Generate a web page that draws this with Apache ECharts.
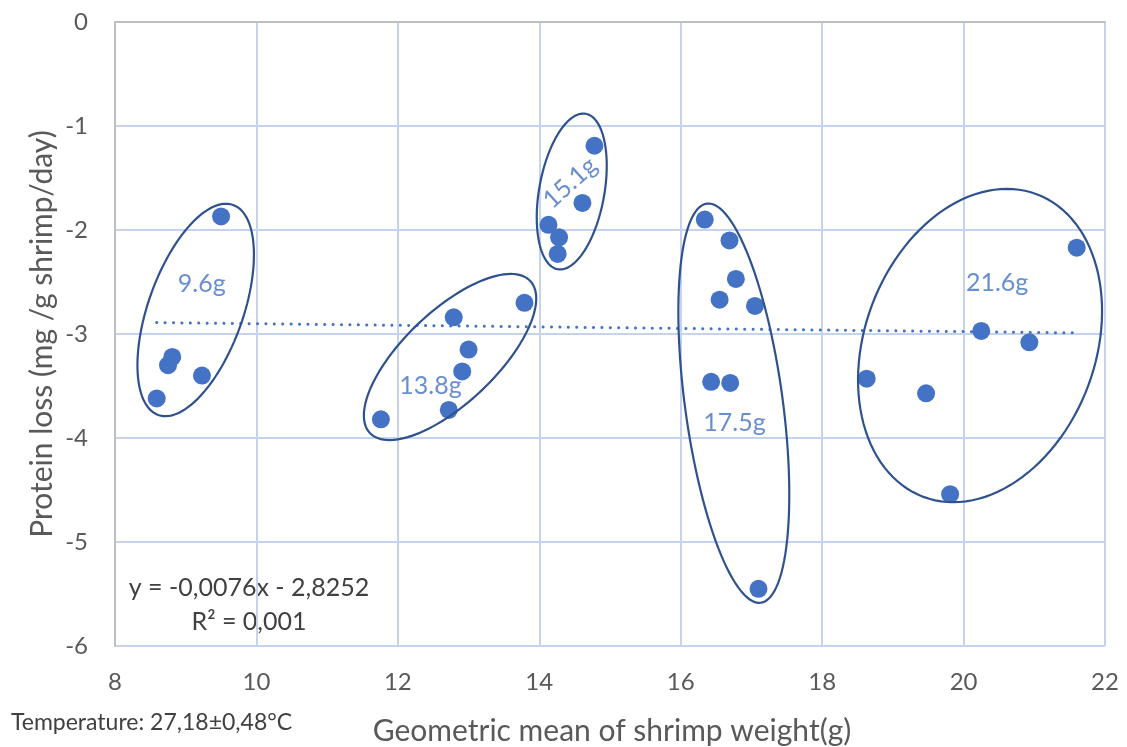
<!DOCTYPE html>
<html>
<head>
<meta charset="utf-8">
<script src="https://cdn.jsdelivr.net/npm/echarts@6/dist/echarts.min.js"></script>
<style>html,body{margin:0;padding:0;background:#fff}#c{width:1127px;height:747px}</style>
</head>
<body>
<div id="c"></div>
<script>
// ---- data ----
const weights = [9.50, 8.75, 8.81, 9.23, 8.59,
  11.76, 12.72, 12.79, 13.00, 12.91, 13.79,
  14.78, 14.61, 14.13, 14.28, 14.26,
  16.34, 16.69, 16.78, 16.55, 17.05, 16.43, 16.70, 17.10,
  18.63, 19.47, 19.81, 20.25, 20.93, 21.60];
const proteinLoss = [-1.87, -3.30, -3.22, -3.40, -3.62,
  -3.82, -3.73, -2.84, -3.15, -3.36, -2.70,
  -1.19, -1.74, -1.95, -2.07, -2.23,
  -1.90, -2.10, -2.47, -2.67, -2.73, -3.46, -3.47, -5.45,
  -3.43, -3.57, -4.54, -2.97, -3.08, -2.17];
const groupNames = ['9.6g', '13.8g', '15.1g', '17.5g', '21.6g'];
const groupLabelX = [9.226, 12.462, 14.435, 16.76, 20.474];
const groupLabelY = [-2.514, -3.50, -1.546, -3.851, -2.505];
const groupLabelRotate = [0, 0, 42, 0, 0];
// ellipse annotations: centre (data units)
const ellipseCx = [9.141, 12.738, 14.459, 16.751, 20.233];
const ellipseCy = [-2.769, -3.221, -1.630, -3.665, -3.111];
const xTicks = [8, 10, 12, 14, 16, 18, 20, 22];
const yTicks = [0, -1, -2, -3, -4, -5, -6];
const trendSlope = -0.0076;
const trendIntercept = -2.8252;
const equationText = 'y = -0,0076x - 2,8252';
const r2Text = 'R² = 0,001';
const tempText = 'Temperature: 27,18±0,48°C';
const xTitle = 'Geometric mean of shrimp weight(g)';
const yTitle = 'Protein loss (mg /g shrimp/day)';

// ---- styles (pixel sizes of annotation ellipses) ----
const ellipseStyle = [
  {a: 111.5, b: 47.4, ang: 70.4},
  {a: 110.5, b: 46.0, ang: 43.5},
  {a: 79.0, b: 32.6, ang: 79.8},
  {a: 201.4, b: 48.9, ang: 97.7},
  {a: 161.6, b: 115.4, ang: 69.5}
];

const FONT = 'Lato';
const pts = weights.map((w, i) => [w, proteinLoss[i]]);
const xMin = Math.min(...weights), xMax = Math.max(...weights);
const trend = [[xMin, trendSlope * xMin + trendIntercept], [xMax, trendSlope * xMax + trendIntercept]];
const ellData = ellipseCx.map((x, i) => [x, ellipseCy[i], i]);
const labelData = groupNames.map((n, i) => ({
  value: [groupLabelX[i], groupLabelY[i]], name: n,
  label: {rotate: groupLabelRotate[i]}
}));

const chart = echarts.init(document.getElementById('c'));
chart.setOption({
  animation: false,
  backgroundColor: '#ffffff',
  grid: {left: 115, right: 22, top: 22, bottom: 101, containLabel: false},
  xAxis: [{
    type: 'value', min: 8, max: 22, interval: 2, position: 'bottom',
    axisLine: {show: false}, axisTick: {show: false},
    axisLabel: {color: '#595959', fontFamily: FONT, fontSize: 24, margin: 24,
      formatter: v => xTicks.includes(v) ? String(v) : ''},
    splitLine: {show: true, lineStyle: {color: '#C5D3EC', width: 2}}
  }, {
    type: 'value', min: 8, max: 22, interval: 2, position: 'top',
    axisLine: {show: true, onZero: false, lineStyle: {color: '#BFBFBF', width: 2}},
    axisTick: {show: false}, axisLabel: {show: false}, splitLine: {show: false}
  }],
  yAxis: {
    type: 'value', min: -6, max: 0, interval: 1,
    axisLine: {show: true, onZero: false, lineStyle: {color: '#BFBFBF', width: 2}},
    axisTick: {show: false},
    axisLabel: {color: '#595959', fontFamily: FONT, fontSize: 24, margin: 27,
      padding: [6, 0, 0, 0],
      formatter: v => yTicks.includes(v) ? String(v) : ''},
    splitLine: {show: true, lineStyle: {color: '#C5D3EC', width: 2}}
  },
  series: [
    {
      type: 'line', data: trend, showSymbol: false, symbol: 'none', z: 3,
      lineStyle: {color: '#4472C4', width: 3, type: [0.1, 8.3], cap: 'round'}
    },
    {
      type: 'scatter', data: pts, symbolSize: 18, z: 4,
      itemStyle: {color: '#4472C4', opacity: 1}
    },
    {
      type: 'custom', data: ellData, z: 5, silent: true,
      renderItem: function (params, api) {
        const c = api.coord([api.value(0), api.value(1)]);
        const st = ellipseStyle[api.value(2)];
        const t = st.ang * Math.PI / 180;
        const ux = Math.cos(t), uy = -Math.sin(t);
        const vx = Math.sin(t), vy = Math.cos(t);
        const p = [];
        for (let k = 0; k < 120; k++) {
          const s = k / 120 * Math.PI * 2;
          const ca = st.a * Math.cos(s), sb = st.b * Math.sin(s);
          p.push([c[0] + ca * ux + sb * vx, c[1] + ca * uy + sb * vy]);
        }
        return {type: 'polygon', shape: {points: p},
          style: {fill: 'none', stroke: '#2F528F', lineWidth: 2.2}};
      }
    },
    {
      type: 'scatter', data: labelData, symbolSize: 0, z: 6, silent: true,
      label: {show: true, position: 'inside', formatter: '{b}', color: '#4472C4',
        fontFamily: FONT, fontSize: 25}
    }
  ],
  graphic: [
    {type: 'text', x: 249, y: 588, style: {text: equationText, fill: '#404040', font: '25px ' + FONT, align: 'center', verticalAlign: 'middle'}},
    {type: 'text', x: 249, y: 622, style: {text: r2Text, fill: '#404040', font: '25px ' + FONT, align: 'center', verticalAlign: 'middle'}},
    {type: 'text', x: 11, y: 723, style: {text: tempText, fill: '#404040', font: '23px ' + FONT, align: 'left', verticalAlign: 'middle'}},
    {type: 'text', x: 612, y: 731, style: {text: xTitle, fill: '#595959', font: '30px ' + FONT, align: 'center', verticalAlign: 'middle'}},
    {type: 'text', x: 42, y: 334, rotation: Math.PI / 2,
      style: {text: yTitle, fill: '#595959', font: '30px ' + FONT, align: 'center', verticalAlign: 'middle'}}
  ]
});
</script>
</body>
</html>
